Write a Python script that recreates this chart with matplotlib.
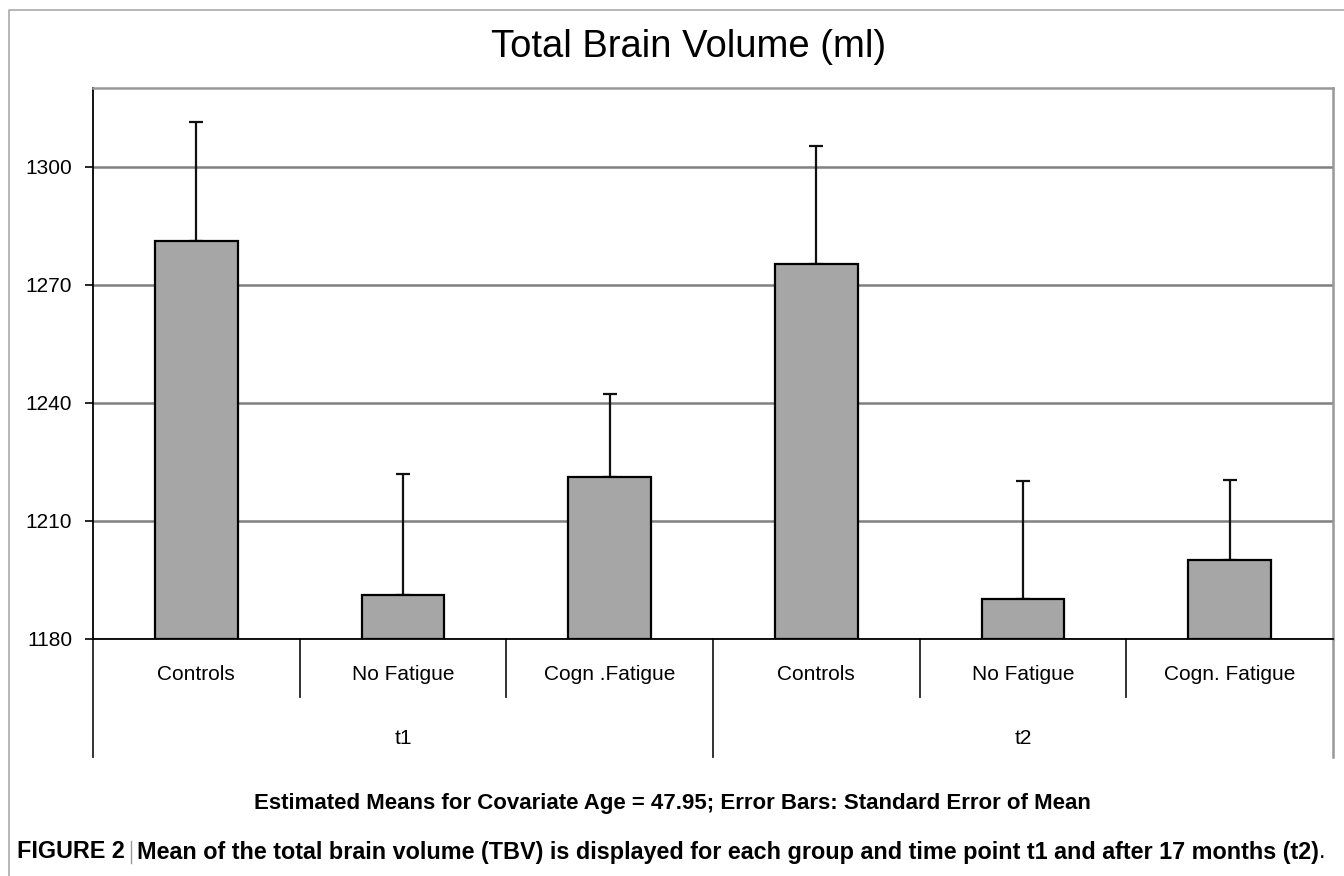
import matplotlib.pyplot as plt
from matplotlib.lines import Line2D

# data
groups = ["t1", "t2"]
categories = ["Controls", "No Fatigue", "Cogn .Fatigue", "Controls", "No Fatigue", "Cogn. Fatigue"]
means = [1281.0, 1191.2, 1221.1, 1275.4, 1190.1, 1200.0]
upper = [1311.3, 1222.0, 1242.2, 1305.2, 1220.2, 1220.5]
yticks = [1180, 1210, 1240, 1270, 1300]

plt.rcParams["font.family"] = ["Liberation Sans", "DejaVu Sans"]

fig = plt.figure(figsize=(13.44, 8.76), dpi=100)
ax = fig.add_axes([93 / 1344, 1 - 639 / 876, 1240 / 1344, 551 / 876])

x = list(range(len(categories)))
err = [u - m for u, m in zip(upper, means)]
ax.bar(x, [m - 1180 for m in means], bottom=1180, width=0.4, color="#a6a6a6",
       edgecolor="black", linewidth=1.6, zorder=3)
ax.errorbar(x, means, yerr=[[0] * len(err), err], fmt="none", ecolor="#111111",
            elinewidth=1.6, capsize=5, capthick=1.6, zorder=2)

ax.set_xlim(-0.5, len(categories) - 0.5)
ax.set_ylim(1180, 1320)
ax.set_yticks(yticks)
ax.set_yticklabels([str(t) for t in yticks], fontsize=15)
ax.tick_params(axis="y", length=6, width=1.2, pad=9)
ax.set_xticks([])
ax.grid(axis="y", color="#808080", linewidth=1.8, zorder=1)

for side in ["top", "right"]:
    ax.spines[side].set_color("#999999")
    ax.spines[side].set_linewidth(1.8)
ax.spines["left"].set_linewidth(1.3)
ax.spines["bottom"].set_linewidth(1.3)

# category / group axis below the plot
tr = ax.get_xaxis_transform()
n_per = len(categories) // len(groups)
y_cat = -58 / 551
y_grp = -118 / 551
for i, lab in enumerate(categories):
    ax.text(i, -36 / 551, lab, transform=tr, ha="center", va="center", fontsize=15)
for i in range(1, len(categories)):
    bottom = y_grp if i % n_per == 0 else y_cat
    ax.add_line(Line2D([i - 0.5, i - 0.5], [0, bottom], transform=tr, color="#222222",
                       linewidth=1.3, clip_on=False))
for edge in [-0.5, len(categories) - 0.5]:
    col = "#222222" if edge < 0 else "#999999"
    ax.add_line(Line2D([edge, edge], [0, y_grp], transform=tr, color=col,
                       linewidth=1.3 if edge < 0 else 1.8, clip_on=False))
for g, lab in enumerate(groups):
    ax.text(g * n_per + (n_per - 1) / 2, -100 / 551, lab, transform=tr,
            ha="center", va="center", fontsize=15)

fig.text(689 / 1344, 1 - 47 / 876, "Total Brain Volume (ml)", ha="center", va="center",
         fontsize=27.5)
fig.text(672 / 1344, 1 - 803 / 876,
         "Estimated Means for Covariate Age = 47.95; Error Bars: Standard Error of Mean",
         ha="center", va="center", fontsize=16, fontweight="bold")

# outer frame
fig.add_artist(Line2D([9 / 1344, 9 / 1344, 1], [0, 1 - 10 / 876, 1 - 10 / 876],
                      color="#aaaaaa", linewidth=1.2))

# figure caption
cap_y = 1 - 852 / 876
t1 = fig.text(17 / 1344, cap_y, "FIGURE 2", ha="left", va="center",
              fontsize=16.8, fontweight="bold")
fig.canvas.draw()
bb = t1.get_window_extent()
fig.add_artist(Line2D([(bb.x1 + 6) / 1344] * 2, [cap_y - 11 / 876, cap_y + 11 / 876],
                      color="#999999", linewidth=1.0))
fig.text((bb.x1 + 12) / 1344, cap_y,
         "Mean of the total brain volume (TBV) is displayed for each group and time point t1 and after 17 months (t2)",
         ha="left", va="center", fontsize=16.8, fontweight="bold")
fig.canvas.draw()
# closing period is set in regular weight in the original
last = fig.texts[-1].get_window_extent()
fig.text(last.x1 / 1344, cap_y, ".", ha="left", va="center", fontsize=16.8)

fig.savefig("out.png", dpi=100)
